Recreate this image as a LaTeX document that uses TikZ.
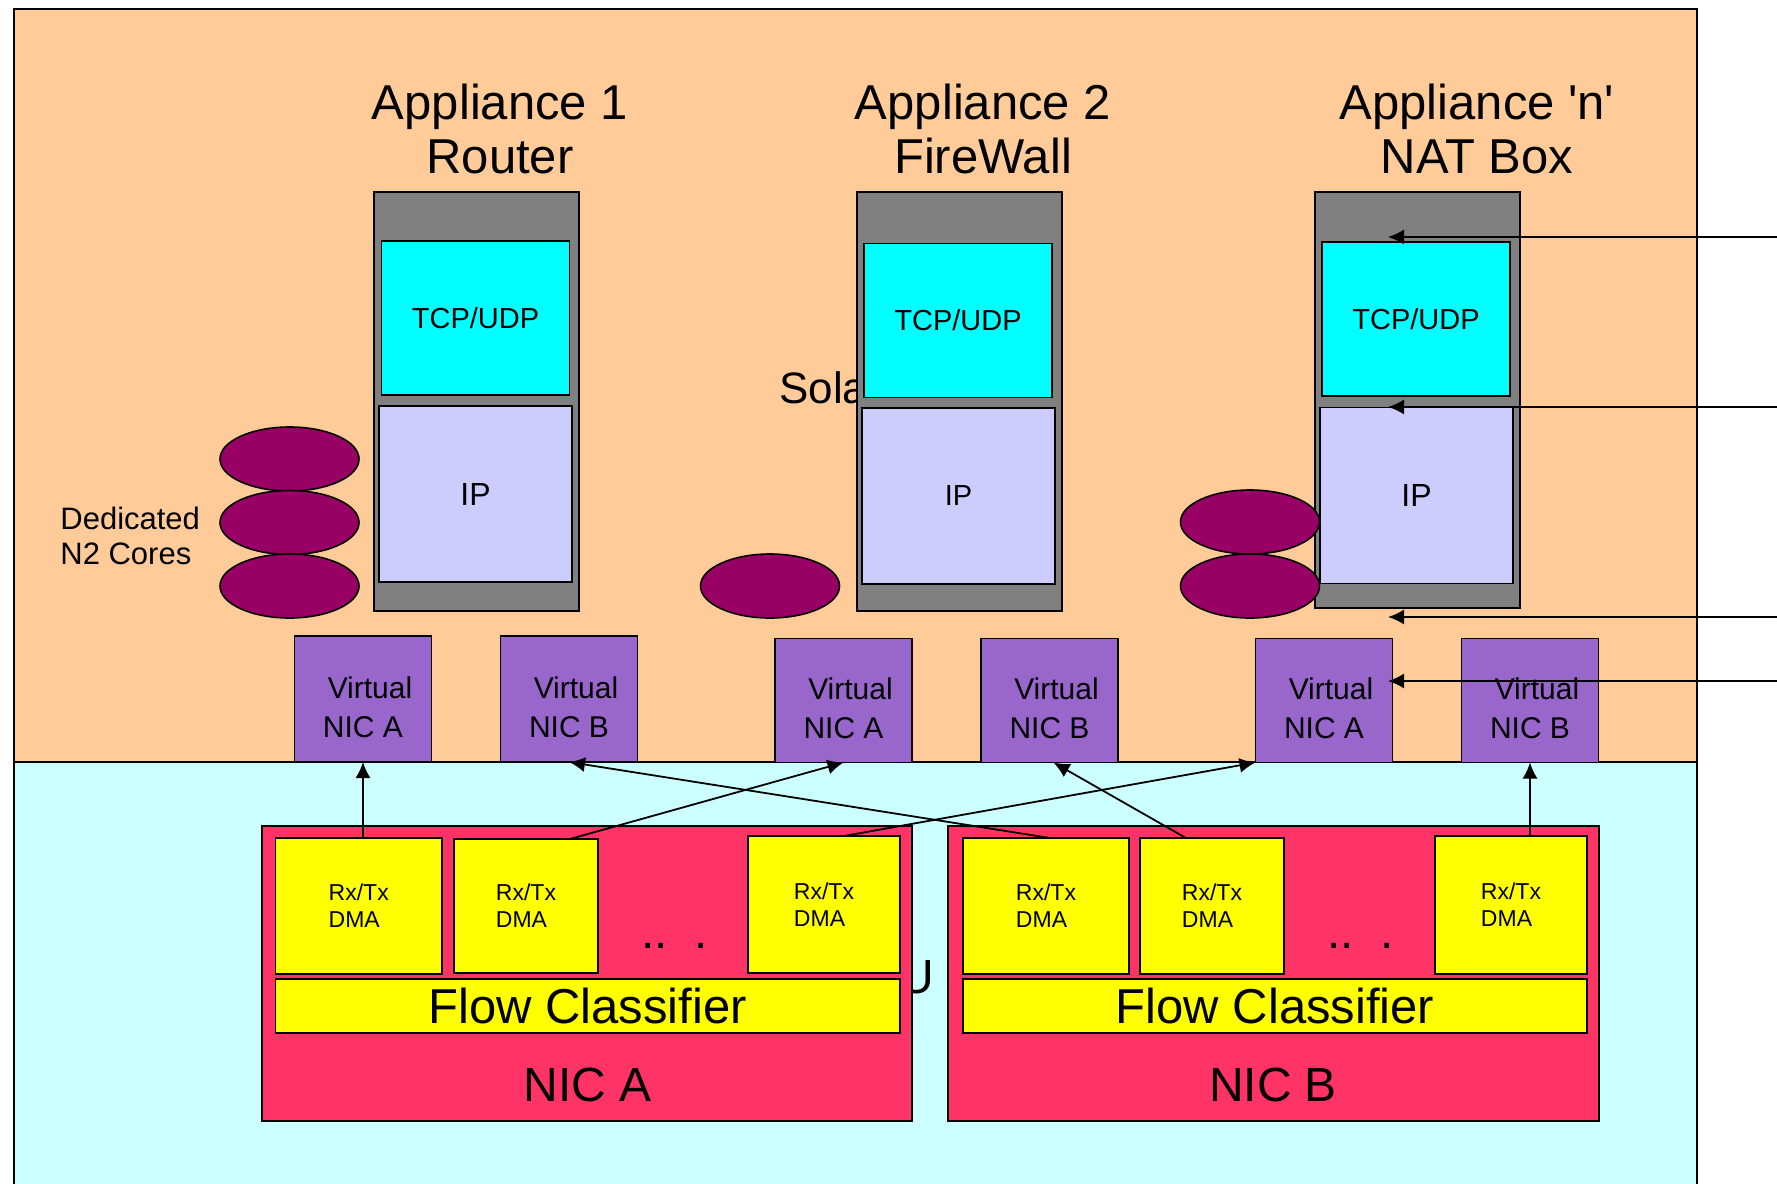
\documentclass[tikz,border=0pt]{standalone}
\usepackage{fontspec}
\setmainfont{Liberation Sans}
\usetikzlibrary{shapes.geometric,arrows.meta,calc}

\definecolor{bgorange}{HTML}{FFCC99}
\definecolor{bgcyan}{HTML}{CCFFFF}
\definecolor{appgray}{HTML}{808080}
\definecolor{tcpcyan}{HTML}{00FFFF}
\definecolor{iplav}{HTML}{CCCCFF}
\definecolor{vnicpurple}{HTML}{9966CC}
\definecolor{coremag}{HTML}{990066}
\definecolor{nicred}{HTML}{FF3366}
\definecolor{dmayellow}{HTML}{FFFF00}

\begin{document}
\begin{tikzpicture}[x=0.5pt,y=-0.5pt,
  box/.style={draw=black, line width=0.8pt, inner sep=0pt, outer sep=0pt},
  appbox/.style={box, fill=appgray, minimum width=102.5pt},
  tcpbox/.style={box, fill=tcpcyan, minimum width=94pt, minimum height=77pt, font=\fontsize{14.5}{16}\selectfont},
  ipbox/.style={box, fill=iplav, minimum width=96.5pt, minimum height=88pt},
  vnic/.style={box, fill=vnicpurple, minimum width=68.5pt, minimum height=62pt},
  vtext/.style={inner sep=0pt, align=center, font=\fontsize{15}{19.5}\selectfont},
  core/.style={ellipse, draw=black, line width=0.8pt, fill=coremag, minimum width=69.5pt, minimum height=32pt, inner sep=0pt},
  nicbox/.style={box, fill=nicred, minimum height=147.5pt},
  dma/.style={box, fill=dmayellow, minimum height=68pt, align=left, font=\fontsize{11.5}{13.5}\selectfont},
  flowbox/.style={box, fill=dmayellow, minimum height=27pt, font=\fontsize{24.5}{26}\selectfont},
  bigtext/.style={inner sep=0pt, font=\fontsize{24}{26}\selectfont},
  title/.style={inner sep=0pt, align=center, font=\fontsize{24.5}{27}\selectfont},
  conn/.style={draw=black, line width=0.9pt, -{Latex[length=8pt,width=7.5pt]}},
]
\useasboundingbox (0,0) rectangle (1777,1183);
\clip (0,0) rectangle (1777,1183);
\fill[white] (0,0) rectangle (1777,1183);

% background regions
\fill[bgorange] (14,9) rectangle (1697,762);
\fill[bgcyan] (14,762) rectangle (1697,1200);
\draw[line width=1pt] (14,1200) -- (14,9) -- (1697,9) -- (1697,1200);
\draw[line width=1pt] (14,762) -- (1697,762);

% partly hidden texts
\node[inner sep=0pt, anchor=base west, font=\fontsize{22}{24}\selectfont] (sola) at (779,403) {Sola};
\node[bigtext, anchor=base east] (cpu) at (935,993) {U};

% titles
\node[title] (title1) at (500,129) {Appliance 1\\Router};
\node[title] (title2) at (983,129) {Appliance 2\\FireWall};
\node[title] (title3) at (1477,129) {Appliance \textquotesingle n\textquotesingle\\NAT Box};

% appliance containers
\node[appbox, minimum height=209.5pt] (G1) at (476.5,401.5) {};
\node[appbox, minimum height=209.5pt] (G2) at (959.5,401.5) {};
\node[appbox, minimum height=208pt] (G3) at (1417.5,400) {};

\node[tcpbox] (C1) at (475.5,318) {TCP/UDP};
\node[tcpbox] (C2) at (958,320.5) {TCP/UDP};
\node[tcpbox] (C3) at (1416,319) {TCP/UDP};

\node[ipbox, font=\fontsize{16}{18}\selectfont] (I1) at (475.5,494) {IP};
\node[ipbox, font=\fontsize{14.5}{17}\selectfont] (I2) at (958.5,496) {IP};
\node[ipbox, font=\fontsize{16}{18}\selectfont] (I3) at (1416.5,495.5) {IP};

% cores
\node[core] (E1) at (289.5,459) {};
\node[core] (E2) at (289.5,522.5) {};
\node[core] (E3) at (289.5,586) {};
\node[core] (E4) at (770,586) {};
\node[core] (E5) at (1250,522) {};
\node[core] (E6) at (1250,586) {};
\node[inner sep=0pt, anchor=west, align=left, font=\fontsize{15.5}{17.5}\selectfont] (ded) at (60,536) {Dedicated\\N2 Cores};

% virtual NICs
\node[vnic, minimum height=63pt] (V1) at (363,699) {};
\node[vnic, minimum height=63pt] (V2) at (569,699) {};
\node[vnic] (V3) at (843.5,700.5) {};
\node[vnic] (V4) at (1049.5,700.5) {};
\node[vnic] (V5) at (1324,700.5) {};
\node[vnic] (V6) at (1530,700.5) {};
\node[vtext] (V1t) at ([yshift=-4pt]V1.center) {\hspace*{7pt}Virtual\\NIC A};
\node[vtext] (V2t) at ([yshift=-4pt]V2.center) {\hspace*{7pt}Virtual\\NIC B};
\node[vtext] (V3t) at ([yshift=-4pt]V3.center) {\hspace*{7pt}Virtual\\NIC A};
\node[vtext] (V4t) at ([yshift=-4pt]V4.center) {\hspace*{7pt}Virtual\\NIC B};
\node[vtext] (V5t) at ([yshift=-4pt]V5.center) {\hspace*{7pt}Virtual\\NIC A};
\node[vtext] (V6t) at ([yshift=-4pt]V6.center) {\hspace*{7pt}Virtual\\NIC B};

% physical NICs
\node[nicbox, minimum width=325pt] (NA) at (587,973.5) {};
\node[nicbox, minimum width=325.5pt] (NB) at (1273.5,973.5) {};
\node[bigtext] (NAt) at (588,1085) {NIC A};
\node[bigtext] (NBt) at (1273,1085) {NIC B};

\node[dma, minimum width=83.25pt] (D1) at (358.75,906) {Rx/Tx\\DMA};
\node[dma, minimum width=72pt, minimum height=67pt] (D2) at (526,906) {Rx/Tx\\DMA};
\node[dma, minimum width=76pt, minimum height=68.5pt] (D3) at (824,904.5) {Rx/Tx\\DMA};
\node[dma, minimum width=83pt] (D4) at (1046,906) {Rx/Tx\\DMA};
\node[dma, minimum width=71.75pt] (D5) at (1212,906) {Rx/Tx\\DMA};
\node[dma, minimum width=76pt, minimum height=69pt] (D6) at (1511,905) {Rx/Tx\\DMA};

\node[bigtext, anchor=base west] (dotsA) at (641,948) {..~~.};
\node[bigtext, anchor=base west] (dotsB) at (1327,948) {..~~.};

\node[flowbox, minimum width=312.25pt] (F1) at (587.75,1006) {Flow Classifier};
\node[flowbox, minimum width=312pt] (F2) at (1275,1006) {Flow Classifier};

% connectors NIC queues -> virtual NICs
\draw[conn] (D1.north -| V1.south) -- (V1.south);
\draw[conn] ([xshift=22pt]D2.north) -- (V3.south);
\draw[conn] ([xshift=10pt]D3.north) -- (V5.south west);
\draw[conn] ([xshift=2pt]D4.north) -- (V2.south);
\draw[conn] ([xshift=-13pt]D5.north) -- ([xshift=2pt]V4.south);
\draw[conn] (D6.north -| V6.south) -- (V6.south);

% pointer arrows from the right
\coordinate (r1) at (1777,237);
\coordinate (t1) at (1388,237);
\coordinate (r2) at (1777,407);
\coordinate (t2) at (1388,407);
\coordinate (r3) at (1777,617);
\coordinate (t3) at (1388,617);
\coordinate (r4) at (1777,681);
\coordinate (t4) at (1388,681);
\draw[conn] (r1) -- (t1);
\draw[conn] (r2) -- (t2);
\draw[conn] (r3) -- (t3);
\draw[conn] (r4) -- (t4);
\end{tikzpicture}
\end{document}
